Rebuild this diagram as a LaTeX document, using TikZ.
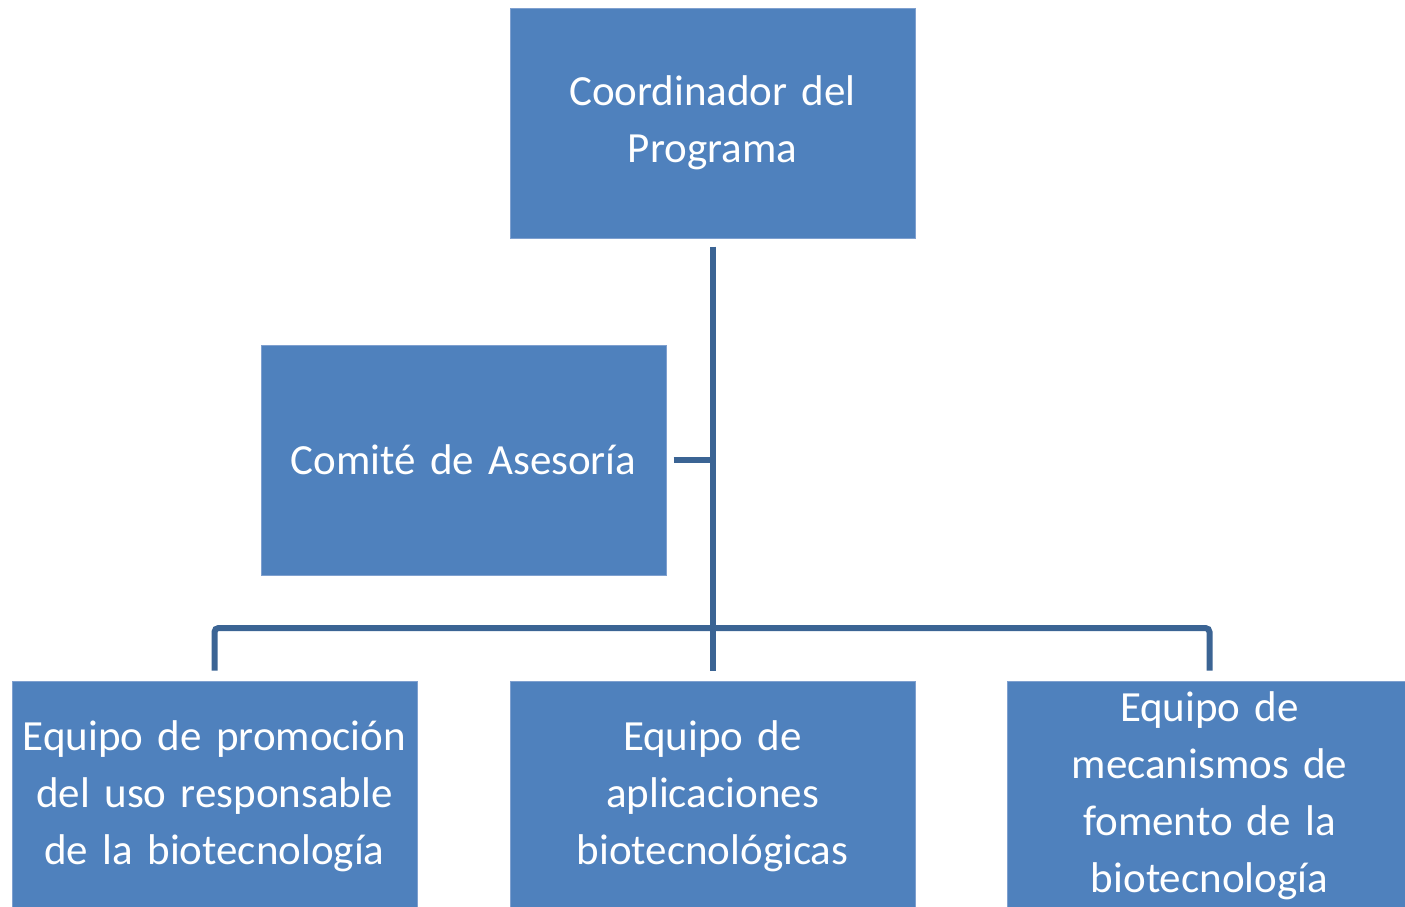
\documentclass[tikz,border=0pt]{standalone}
\usepackage{fontspec}
\setmainfont{Carlito}
\definecolor{boxblue}{HTML}{4F81BD}
\definecolor{boxedge}{HTML}{7FA0CF}
\definecolor{connblue}{HTML}{3B6494}
\begin{document}
\begin{tikzpicture}[x=1pt,y=-1pt,
  orgbox/.style={fill=boxblue, draw=boxedge, line width=1pt, minimum width=405pt, minimum height=230pt,
    inner sep=0pt, text=white, align=center, font=\fontsize{43}{57}\selectfont, text width=400pt},
  conn/.style={draw=connblue, line width=6pt}]
\useasboundingbox (0,0) rectangle (1405,906);
\clip (0,0) rectangle (1405,906);
\node[orgbox] (top) at (712.5,123) {Coordinador del\\Programa};
\node[orgbox] (com) at (463.5,460) {Comité de Asesoría};
\node[orgbox] (b1) at (214.5,796) {Equipo de promoción\\del uso responsable\\de la biotecnología};
\node[orgbox] (b2) at (712.5,796) {Equipo de\\aplicaciones\\biotecnológicas};
\node[orgbox] (b3) at (1209.5,796) {Equipo de\\mecanismos de\\fomento de la\\biotecnología};
\coordinate (bus) at (712.5,628);
\draw[conn] ([yshift=-8pt]top.south) -- ([yshift=10pt]b2.north);
\draw[conn, rounded corners=4pt] ([yshift=10pt]b1.north) |- (bus) -| ([yshift=10pt]b3.north);
\draw[conn] ([xshift=7pt]com.east) -- (com.east -| top.south);
\end{tikzpicture}
\end{document}
